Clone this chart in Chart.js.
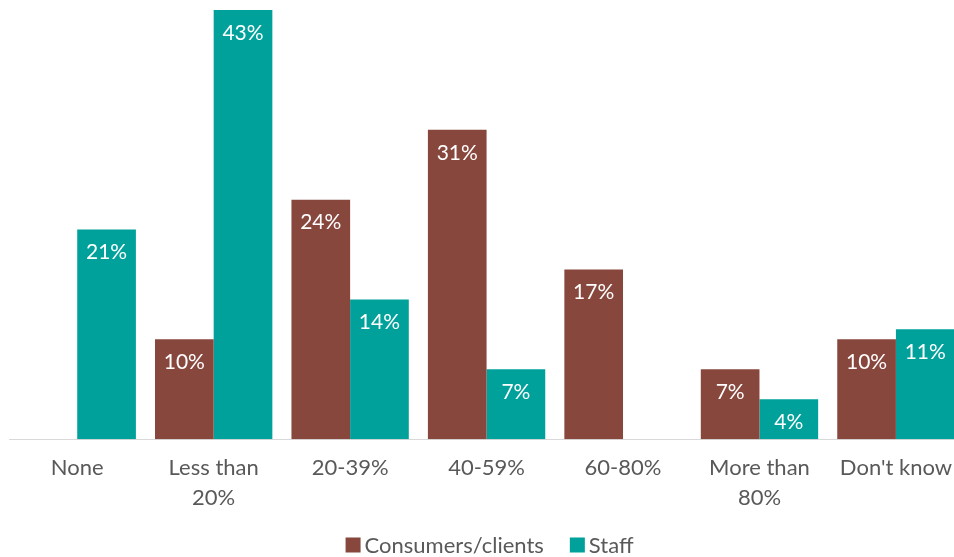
<!DOCTYPE html>
<html>
<head>
<meta charset="utf-8">
<script src="https://cdn.jsdelivr.net/npm/chart.js@4"></script>
<style>
  html, body { margin: 0; padding: 0; background: #fff; overflow: hidden; }
  #wrap { width: 966px; height: 557px; }
</style>
</head>
<body>
<div id="wrap"><canvas id="shareChart"></canvas></div>
<script>
const categories = [['None'], ['Less than', '20%'], ['20-39%'], ['40-59%'], ['60-80%'], ['More than', '80%'], ["Don't know"]];
const consumers = [0, 10, 24, 31, 17, 7, 10];
const staff = [21, 43, 14, 7, 0, 4, 11];

const BROWN = '#88473D';
const TEAL = '#00A19B';
const FONT = 'Lato, "Noto Sans", sans-serif';

// white % labels just inside the top of each bar
const barLabels = {
  id: 'barLabels',
  afterDatasetsDraw(chart) {
    const ctx = chart.ctx;
    ctx.save();
    ctx.fillStyle = '#fff';
    ctx.font = '21px ' + FONT;
    ctx.textAlign = 'center';
    ctx.textBaseline = 'middle';
    chart.data.datasets.forEach((ds, i) => {
      chart.getDatasetMeta(i).data.forEach((bar, j) => {
        const v = ds.data[j];
        if (!v) return;
        ctx.fillText(v + '%', bar.x, bar.y + 23);
      });
    });
    ctx.restore();
  }
};

// compact legend: small square, tight gap before the text
const bottomLegend = {
  id: 'bottomLegend',
  afterDraw(chart) {
    const ctx = chart.ctx;
    const box = 15, gap = 4, spacing = 26;
    ctx.save();
    ctx.font = '22px ' + FONT;
    ctx.textBaseline = 'middle';
    const items = chart.data.datasets.map(ds => ({
      text: ds.label, color: ds.backgroundColor, w: ctx.measureText(ds.label).width
    }));
    const total = items.reduce((s, it) => s + box + gap + it.w, 0) + spacing * (items.length - 1);
    let x = (chart.chartArea.left + chart.chartArea.right) / 2 + 3 - total / 2;
    const y = chart.height - 12;
    items.forEach(it => {
      ctx.fillStyle = it.color;
      ctx.fillRect(x, y - box / 2, box, box);
      ctx.fillStyle = '#595959';
      ctx.fillText(it.text, x + box + gap, y + 1);
      x += box + gap + it.w + spacing;
    });
    ctx.restore();
  }
};

new Chart(document.getElementById('shareChart'), {
  type: 'bar',
  data: {
    labels: categories,
    datasets: [
      { label: 'Consumers/clients', data: consumers, backgroundColor: BROWN },
      { label: 'Staff', data: staff, backgroundColor: TEAL }
    ]
  },
  options: {
    responsive: true,
    maintainAspectRatio: false,
    animation: false,
    datasets: { bar: { categoryPercentage: 0.86, barPercentage: 1.0 } },
    layout: { padding: { left: 9, right: 0, top: 10, bottom: 30 } },
    scales: {
      y: { display: false, min: 0, max: 43 },
      x: {
        grid: { display: false, drawTicks: false },
        border: { display: true, color: '#D9D9D9', width: 1 },
        ticks: { color: '#595959', font: { family: FONT, size: 22, lineHeight: 1.36 }, padding: 14, maxRotation: 0, autoSkip: false }
      }
    },
    plugins: {
      tooltip: { enabled: false },
      legend: { display: false }
    }
  },
  plugins: [barLabels, bottomLegend]
});
</script>
</body>
</html>
